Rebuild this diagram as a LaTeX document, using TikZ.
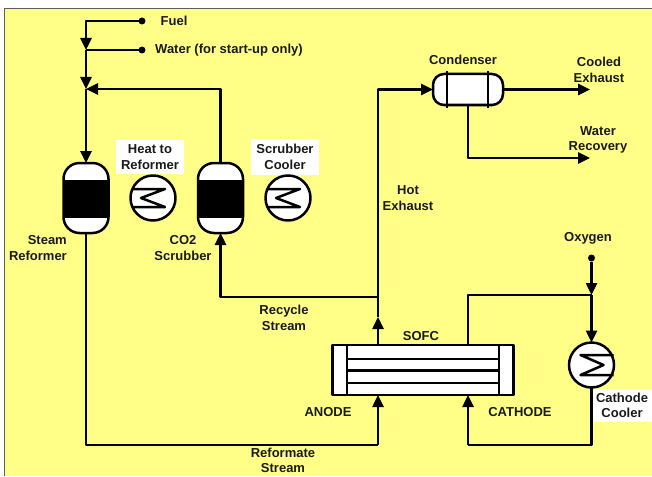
\documentclass[tikz,border=0pt]{standalone}
\usepackage{fontspec}
\setmainfont{Liberation Sans}
\usetikzlibrary{arrows.meta}
\definecolor{panel}{HTML}{FFFF88}
\definecolor{ink}{HTML}{1A1A1A}
\tikzset{
	flow/.style={line width=2.5pt, draw=black, -{Stealth[length=12pt,width=11pt,inset=0pt]}},
	pipe/.style={line width=2.5pt, draw=black},
	txt/.style={font=\fontsize{13}{15.5}\selectfont\bfseries, text=ink, align=center, inner sep=0pt},
	patch/.style={txt, fill=white, inner sep=5pt},
	vessel/.style={draw=black, line width=2.5pt, fill=white, minimum width=45pt, minimum height=70pt, rounded corners=16pt, outer sep=0pt, inner sep=0pt,
		path picture={\fill[black,sharp corners] ([yshift=-17pt]path picture bounding box.north west) rectangle ([yshift=15pt]path picture bounding box.south east);}},
	cooler/.style={draw=black, line width=2.5pt, fill=white, circle, minimum size=45pt, outer sep=0pt, inner sep=0pt},
	inlet/.style={circle, fill=black, minimum size=7pt, inner sep=0pt, outer sep=0pt},
}
\begin{document}
\begin{tikzpicture}[x=1pt,y=-1pt,line join=round]
	\useasboundingbox (0,0) rectangle (652,476);
	\fill[white] (0,0) rectangle (652,476);
	\fill[panel] (4.5,8.5) rectangle (652,476);
	\draw[ink!70,line width=1pt] (4.5,476)--(4.5,8.5)--(652,8.5);
	% labels
	\node[txt] (fuelT) at (174,21) {Fuel};
	\node[txt] (waterT) at (229,50) {Water (for start-up only)};
	\node[patch] (heatT) at (150,157) {Heat to\\Reformer};
	\node[patch] (coolT) at (285,157) {Scrubber\\Cooler};
	\node[txt,align=right,anchor=east] (steamT) at (67,248) {Steam\\Reformer};
	\node[txt] (co2T) at (183,248) {CO2\\Scrubber};
	\node[txt] (condT) at (463,60) {Condenser};
	\node[txt] (cooledT) at (599,70) {Cooled\\Exhaust};
	\node[txt] (recovT) at (598,140) {Water\\Recovery};
	\node[txt] (hotT) at (408,198) {Hot\\Exhaust};
	\node[txt] (oxyT) at (588,238) {Oxygen};
	\node[txt] (recyT) at (284,318) {Recycle\\Stream};
	\node[txt] (sofcT) at (421,336) {SOFC};
	\node[txt] (anodeT) at (328,412) {ANODE};
	\node[txt] (cathT) at (520,412) {CATHODE};
	\node[patch,inner sep=4pt] (cathC) at (622,405.5) {Cathode\\Cooler};
	\node[txt] (refT) at (283,460.5) {Reformate\\Stream};
	% equipment
	\node[vessel] (reformer) at (86,198) {};
	\node[vessel] (scrubber) at (220.5,198) {};
	\node[cooler] (heatR) at (153,198) {};
	\node[cooler] (heatS) at (288,198) {};
	\node[cooler] (heatC) at (591.5,365) {};
	\foreach \n in {heatR,heatS}{
		\draw[pipe,shift={(\n)}] (-21,-9)--(12,-9)--(-12,0)--(12,9)--(-21,9);}
	\draw[pipe,shift={(heatC)}] (22,-10)--(-11,-10)--(12,0)--(-11,10)--(22,10);
	\node[draw=black,line width=2.5pt,fill=white,minimum width=70pt,minimum height=31pt,rounded corners=11pt,outer sep=0pt] (cond) at (468,89.5) {};
	\foreach \x in {-21,20}{
		\draw[pipe] ([xshift=\x pt,yshift=3pt]cond.north)--([xshift=\x pt,yshift=-3pt]cond.south);}
	\node[draw=black,line width=2.5pt,fill=white,minimum width=181pt,minimum height=50pt,outer sep=0pt] (sofc) at (423,370) {};
	\foreach \y in {-11,0.5,13}{
		\draw[pipe] ([xshift=-76pt,yshift=-\y pt]sofc.center)--([xshift=76pt,yshift=-\y pt]sofc.center);}
	\foreach \x in {-76,76}{
		\draw[pipe] ([xshift=\x pt]sofc.north)--([xshift=\x pt]sofc.south);}
	% inlets and junctions
	\node[inlet] (fuel) at (142,21) {};
	\node[inlet] (water) at (142,50) {};
	\node[inlet] (oxygen) at (591.5,258) {};
	\coordinate (mixA) at (86,50);
	\coordinate (mixB) at (86,89);
	\coordinate (hotA) at (378,317);
	\coordinate (hotB) at (378,297);
	\coordinate (oxyA) at (591.5,295);
	% connectors
	\draw[flow] (fuel)-|(mixA);
	\draw[pipe] (water)--(mixA);
	\draw[flow] (mixA)--(mixB);
	\draw[flow] (mixB)--(reformer.north);
	\draw[flow] (scrubber.north)|-(mixB);
	\draw[pipe] (reformer.south)--(86,445)--(378,445);
	\draw[flow] (378,445)--(sofc.south-|hotA);
	\draw[flow] (sofc.north-|hotA)--(hotA);
	\draw[flow] (hotA)|-(cond.west);
	\draw[flow] (hotB)-|(scrubber.south);
	\draw[flow] (cond.east)--(590,89.5);
	\draw[flow] (cond.south)|-(590,158);
	\draw[flow] (oxygen)--(oxyA);
	\draw[flow] (oxyA)--(heatC.north);
	\draw[pipe] (oxyA)-|(cond.south|-sofc.north);
	\draw[pipe] (heatC.south)--(591.5,445)--(468,445);
	\draw[flow] (468,445)--(cond.south|-sofc.south);
\end{tikzpicture}
\end{document}
